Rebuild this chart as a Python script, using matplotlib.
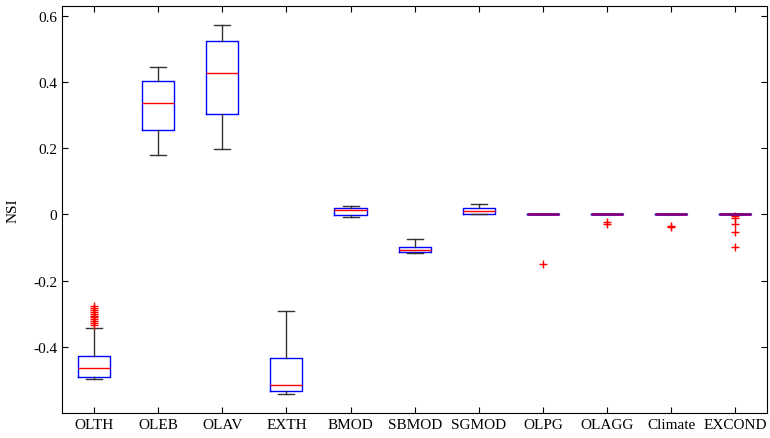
import matplotlib
matplotlib.use('Agg')
import matplotlib.pyplot as plt

plt.rcParams['font.family'] = ['Liberation Serif', 'DejaVu Serif']
plt.rcParams['axes.unicode_minus'] = False

# --------- INPUT ----------

names = ['OLTH', 'OLEB', 'OLAV', 'EXTH', 'BMOD', 'SBMOD', 'SGMOD',
         'OLPG', 'OLAGG', 'Climate', 'EXCOND']

# whisker low, Q1, median, Q3, whisker high
wlo = [-0.497, 0.179, 0.197, -0.542, -0.009, -0.115, 0.000, 0, 0, 0, 0]
q1 = [-0.491, 0.256, 0.303, -0.535, -0.003, -0.112, 0.002, 0, 0, 0, 0]
med = [-0.464, 0.337, 0.427, -0.516, 0.012, -0.107, 0.011, 0, 0, 0, 0]
q3 = [-0.428, 0.403, 0.523, -0.434, 0.021, -0.097, 0.020, 0, 0, 0, 0]
whi = [-0.343, 0.446, 0.572, -0.292, 0.027, -0.073, 0.033, 0, 0, 0, 0]

fliers = [
    [-0.278, -0.283, -0.289, -0.295, -0.300, -0.306, -0.311, -0.317,
     -0.323, -0.329, -0.335],
    [], [], [], [], [], [],
    [-0.150],
    [-0.024, -0.029],
    [-0.035, -0.038],
    [-0.004, -0.012, -0.029, -0.053, -0.098],
]

yticks = [-0.4, -0.2, 0, 0.2, 0.4, 0.6]
yticklabels = ['-0.4', '-0.2', '0', '0.2', '0.4', '0.6']

# --------------------------

stats = []
for i in range(len(names)):
    stats.append(dict(label=names[i], whislo=wlo[i], q1=q1[i], med=med[i],
                      q3=q3[i], whishi=whi[i], fliers=fliers[i]))

fh = plt.figure(figsize=(7.7, 4.39), dpi=100)
ax = fh.add_axes([0.0805, 0.057, 0.916, 0.927])

pos = list(range(1, len(names) + 1))
bp = ax.bxp(stats, positions=pos, widths=0.5, capwidths=0.25,
            boxprops=dict(color='#0000ff', linewidth=1.0),
            medianprops=dict(color='#ff0000', linewidth=1.0),
            whiskerprops=dict(color='#333333', linewidth=1.0),
            capprops=dict(color='#333333', linewidth=1.0),
            flierprops=dict(marker='+', markeredgecolor='#ff0000',
                            markersize=6, linestyle='none'))

# zero-height boxes: blue box under red median shows as purple
for i in range(len(names)):
    if q1[i] == q3[i]:
        bp['medians'][i].set_color('#800080')
        bp['medians'][i].set_linewidth(2.0)

ax.set_xlim(0.5, len(names) + 0.5)
ax.set_ylim(-0.6, 0.63)
ax.set_xticks(pos)
ax.set_xticklabels(names, fontsize=11)
ax.set_yticks(yticks)
ax.set_yticklabels(yticklabels, fontsize=11)
ax.tick_params(direction='in', top=True, right=True, length=4)
ax.set_ylabel('NSI', fontsize=11)
ax.yaxis.set_label_coords(-0.06, 0.5)

plt.savefig('out.png', dpi=100)
